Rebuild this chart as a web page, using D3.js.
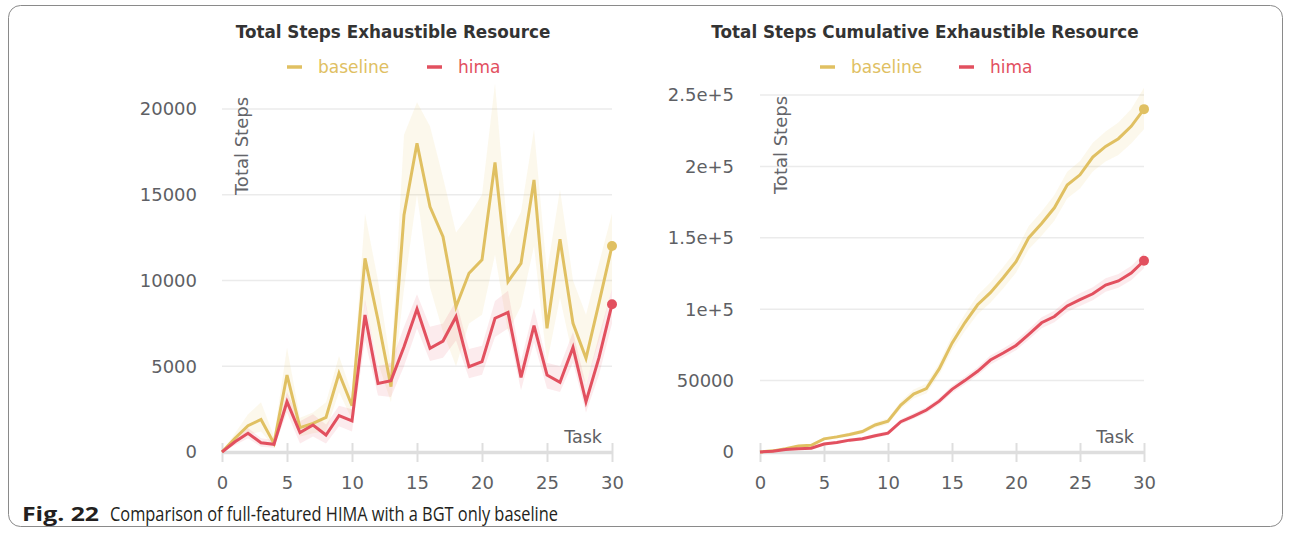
<!DOCTYPE html>
<html>
<head>
<meta charset="utf-8">
<script src="https://cdn.jsdelivr.net/npm/d3@7/dist/d3.min.js"></script>
<style>
  html, body { margin: 0; padding: 0; background: #fff; }
  svg { display: block; }
  .chart text { font-family: "DejaVu Sans", sans-serif; }
  .caption { font-family: "Open Sans", sans-serif; }
</style>
</head>
<body>
<svg id="fig" width="1290" height="533"></svg>
<script>
// ---- data -------------------------------------------------------------
const tasks = d3.range(0, 31);

// per-task steps (mean with lower / upper band)
const baseSteps = [0, 800, 1530, 1900, 500, 4490, 1420, 1670, 2020, 4590, 2700,
  11290, 7700, 3810, 13820, 18000, 14300, 12550, 8470, 10420, 11200,
  16890, 9930, 11000, 15860, 7210, 12400, 7500, 5460, 8700, 12010];
const baseLow = [0, 500, 1000, 1200, 300, 3000, 900, 1100, 1200, 3500, 1900,
  8700, 5200, 2900, 9500, 15000, 9600, 7000, 5000, 7500, 8000,
  11500, 7000, 8500, 12000, 5200, 9000, 5500, 4000, 6500, 9500];
const baseHigh = [0, 1100, 2200, 2900, 900, 6100, 2000, 2300, 2900, 5600, 3400,
  13900, 10000, 5000, 18500, 20400, 19000, 16000, 12800, 13800, 15000,
  21500, 12500, 14000, 18800, 10500, 15300, 10000, 8000, 11000, 13900];

const himaSteps = [0, 600, 1090, 540, 450, 2930, 1130, 1570, 990, 2120, 1810,
  7990, 4000, 4160, 6140, 8340, 6050, 6470, 7890, 4970, 5270,
  7800, 8140, 4350, 7370, 4490, 4060, 6100, 2930, 5500, 8610];
const himaLow = [0, 400, 800, 300, 250, 2300, 500, 900, 500, 1500, 1200,
  6500, 3300, 3200, 5000, 7200, 5300, 5500, 6500, 4300, 4500,
  6700, 7200, 3600, 6400, 3700, 3500, 5200, 2300, 4500, 7500];
const himaHigh = [0, 800, 1400, 800, 700, 3500, 1800, 2200, 1600, 2700, 2500,
  8900, 5000, 5200, 7300, 9200, 7300, 7500, 8800, 6000, 6200,
  8800, 9400, 5300, 8400, 5200, 5000, 7000, 3900, 6800, 9500];

// running totals
const baseCum = [0, 800, 2300, 4200, 4700, 9200, 10600, 12300, 14300, 18900, 21600,
  32900, 40600, 44400, 58200, 76200, 90500, 103100, 111600, 122000, 133200,
  150100, 160000, 171000, 186900, 194100, 206500, 214000, 219400, 228100, 240100];
const baseCumLow = [0, 700, 2000, 3700, 4100, 8300, 9500, 11000, 12800, 17000, 19500,
  30200, 37500, 41000, 54000, 71000, 84500, 96500, 104500, 114500, 125500,
  142000, 151500, 162000, 177500, 184500, 196500, 203500, 208000, 216000, 226000];
const baseCumHigh = [0, 900, 2600, 4700, 5300, 10100, 11700, 13600, 15800, 20800, 23700,
  35600, 43700, 47800, 62400, 81400, 96500, 109700, 118700, 129500, 140900,
  158200, 168500, 180000, 196300, 203700, 216500, 224500, 230800, 240200, 255000];

const himaCum = [0, 600, 1700, 2200, 2700, 5600, 6700, 8300, 9300, 11400, 13200,
  21200, 25200, 29400, 35600, 43900, 50000, 56500, 64400, 69300, 74600,
  82400, 90500, 94900, 102300, 106700, 110800, 116900, 119800, 125300, 133900];
const himaCumLow = [0, 500, 1400, 1800, 2200, 4900, 5800, 7200, 8100, 10000, 11700,
  19500, 23300, 27300, 33300, 41400, 47300, 53600, 61300, 66100, 71200,
  78800, 86700, 90900, 98100, 102300, 106300, 112200, 115000, 120300, 128700];
const himaCumHigh = [0, 700, 2000, 2600, 3200, 6300, 7600, 9400, 10500, 12800, 14700,
  22900, 27100, 31500, 37900, 46400, 52700, 59400, 67500, 72500, 78000,
  86000, 94300, 98900, 106500, 111100, 115300, 121600, 124600, 130300, 139100];

const xTicks = [0, 5, 10, 15, 20, 25, 30];
const yTicksLeft = [0, 5000, 10000, 15000, 20000];
const yLabelsLeft = ["0", "5000", "10000", "15000", "20000"];
const yTicksRight = [0, 50000, 100000, 150000, 200000, 250000];
const yLabelsRight = ["0", "50000", "1e+5", "1.5e+5", "2e+5", "2.5e+5"];

const seriesNames = ["baseline", "hima"];
const colors = { baseline: "#e0c062", hima: "#e2505f" };
const bandColors = { baseline: "rgba(232, 200, 110, 0.13)", hima: "rgba(230, 90, 110, 0.12)" };

// ---- drawing ----------------------------------------------------------
const svg = d3.select("#fig");

function panel(opt) {
  const g = svg.append("g").attr("class", "chart");
  const x = d3.scaleLinear().domain([0, 30]).range([opt.x0, opt.x1]);
  const y = d3.scaleLinear().domain([0, opt.yMax]).range([452, opt.yTop]);

  // horizontal grid
  g.append("g").selectAll("line")
    .data(opt.yTicks.filter(d => d > 0))
    .join("line")
    .attr("x1", opt.x0).attr("x2", opt.x1)
    .attr("y1", d => y(d)).attr("y2", d => y(d))
    .attr("stroke", "#ebebeb").attr("stroke-width", 1.5);

  // y tick labels
  g.append("g").selectAll("text")
    .data(opt.yTicks)
    .join("text")
    .attr("x", opt.labelX)
    .attr("y", d => y(d))
    .attr("dy", "0.36em")
    .attr("text-anchor", "end")
    .attr("font-size", 18)
    .attr("fill", "#5e5f64")
    .text((d, i) => opt.yLabels[i]);

  // x axis
  const ax = g.append("g").attr("transform", "translate(0,452)")
    .call(d3.axisBottom(x).tickValues(xTicks).tickSize(10).tickSizeOuter(0));
  ax.select(".domain").attr("stroke", "#dedede").attr("stroke-width", 3.5);
  ax.selectAll(".tick line").attr("y1", -9).attr("stroke", "#dedede").attr("stroke-width", 2);
  ax.selectAll(".tick text")
    .attr("y", 37).attr("dy", 0)
    .attr("font-size", 18).attr("fill", "#5e5f64");

  // bands, then lines
  const area = d3.area().x((d, i) => x(tasks[i])).y0(d => y(d[0])).y1(d => y(d[1]));
  const line = d3.line().x((d, i) => x(tasks[i])).y(d => y(d));

  opt.series.forEach(s => {
    const pts = s.low.map((v, i) => [v, s.high[i]]);
    g.append("path").datum(pts)
      .attr("d", area)
      .attr("fill", bandColors[s.name]);
  });
  opt.series.forEach(s => {
    g.append("path").datum(s.mean)
      .attr("d", line)
      .attr("fill", "none")
      .attr("stroke", colors[s.name])
      .attr("stroke-width", 3)
      .attr("stroke-linejoin", "miter");
    const last = s.mean.length - 1;
    g.append("circle")
      .attr("cx", x(tasks[last])).attr("cy", y(s.mean[last]))
      .attr("r", 5).attr("fill", colors[s.name]);
  });

  // axis titles
  g.append("text")
    .attr("transform", `translate(${opt.ytitleX},${opt.ytitleY}) rotate(-90)`)
    .attr("text-anchor", "middle")
    .attr("font-size", 18).attr("fill", "#64656a")
    .text("Total Steps");
  g.append("text")
    .attr("x", opt.x1 - 10).attr("y", 443)
    .attr("text-anchor", "end")
    .attr("font-size", 17.5).attr("fill", "#5e5f64")
    .text("Task");

  // title
  g.append("text")
    .attr("x", opt.titleX).attr("y", 38)
    .attr("text-anchor", "middle")
    .attr("font-size", 16.8).attr("font-weight", "bold")
    .attr("fill", "#333333")
    .text(opt.title);

  // legend
  seriesNames.forEach((name, i) => {
    const lx = opt.legendX[i];
    g.append("line")
      .attr("x1", lx).attr("x2", lx + 15)
      .attr("y1", 67).attr("y2", 67)
      .attr("stroke", colors[name]).attr("stroke-width", 3.5);
    g.append("text")
      .attr("x", lx + 31).attr("y", 73)
      .attr("font-size", 17).attr("fill", colors[name])
      .text(name);
  });
}

panel({
  x0: 222, x1: 612, yTop: 109, yMax: 20000,
  yTicks: yTicksLeft, yLabels: yLabelsLeft, labelX: 197,
  ytitleX: 248, ytitleY: 146, titleX: 393,
  title: "Total Steps Exhaustible Resource",
  legendX: [287, 427],
  series: [
    { name: "baseline", mean: baseSteps, low: baseLow, high: baseHigh },
    { name: "hima", mean: himaSteps, low: himaLow, high: himaHigh }
  ]
});

panel({
  x0: 760, x1: 1144, yTop: 95, yMax: 250000,
  yTicks: yTicksRight, yLabels: yLabelsRight, labelX: 734,
  ytitleX: 787, ytitleY: 145, titleX: 925,
  title: "Total Steps Cumulative Exhaustible Resource",
  legendX: [820, 959],
  series: [
    { name: "baseline", mean: baseCum, low: baseCumLow, high: baseCumHigh },
    { name: "hima", mean: himaCum, low: himaCumLow, high: himaCumHigh }
  ]
});

// page frame and caption
svg.append("rect")
  .attr("x", 8.5).attr("y", 5.5).attr("width", 1274).attr("height", 521)
  .attr("rx", 12).attr("fill", "none")
  .attr("stroke", "#8a8a8a").attr("stroke-width", 1);

svg.append("text").attr("class", "caption")
  .attr("x", 22).attr("y", 521)
  .attr("font-size", 20).attr("font-weight", "bold").attr("fill", "#231f20")
  .attr("textLength", 77).attr("lengthAdjust", "spacingAndGlyphs")
  .text("Fig. 22");
svg.append("text").attr("class", "caption")
  .attr("x", 110).attr("y", 521)
  .attr("font-size", 20.5).attr("fill", "#231f20")
  .attr("textLength", 448).attr("lengthAdjust", "spacingAndGlyphs")
  .text("Comparison of full-featured HIMA with a BGT only baseline");
</script>
</body>
</html>
